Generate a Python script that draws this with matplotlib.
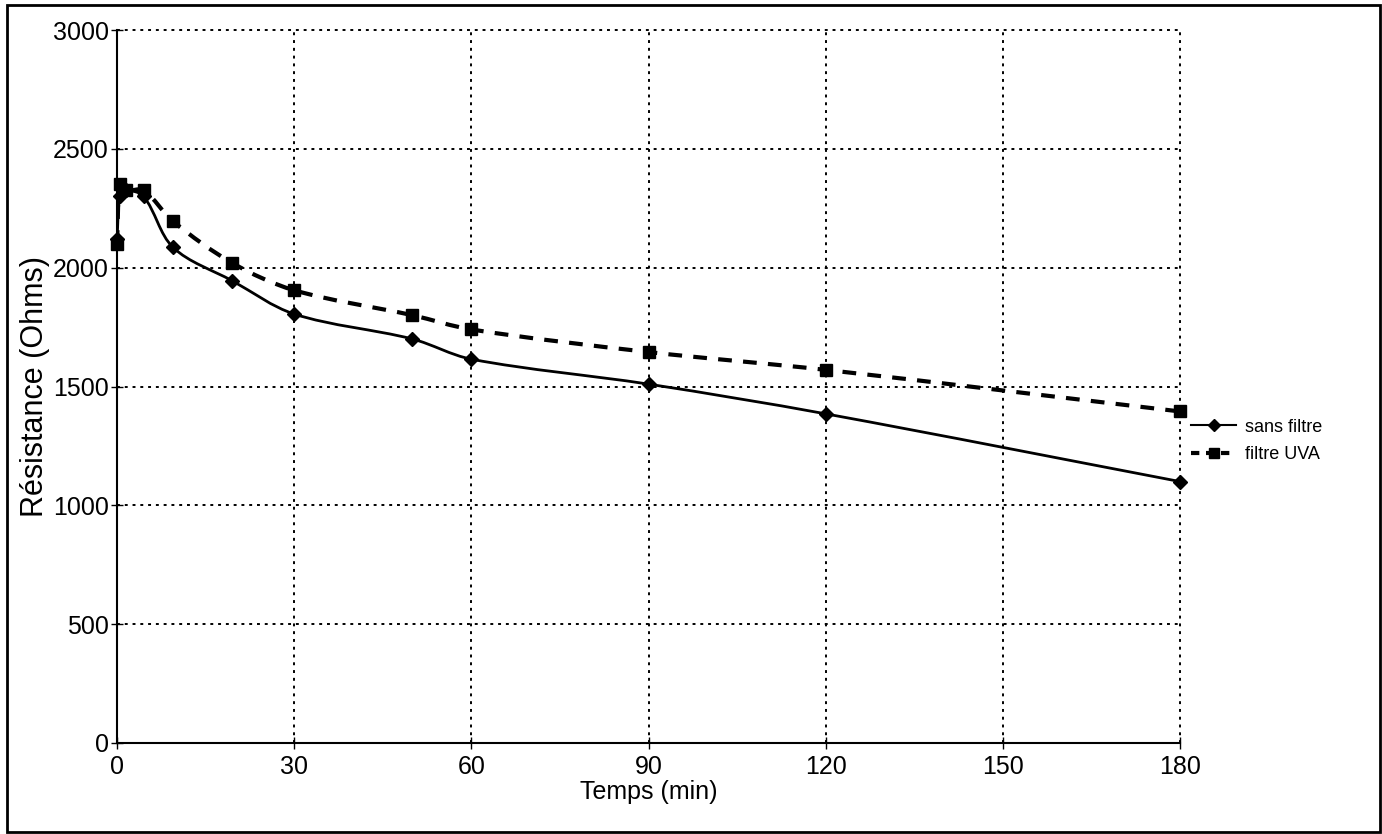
import numpy as np
import matplotlib
matplotlib.use("Agg")
import matplotlib.pyplot as plt
from matplotlib.path import Path
from matplotlib.patches import PathPatch, Rectangle
from matplotlib.lines import Line2D

plt.rcParams['font.family'] = ['Liberation Sans', 'DejaVu Sans']

# Measurement times (min) and resistance (Ohms)
temps = [0, 0.5, 1.5, 4.5, 9.5, 19.5, 30, 50, 60, 90, 120, 180]
sans_filtre = [2120, 2300, 2325, 2300, 2085, 1945, 1805, 1700, 1615, 1510, 1385, 1100]
filtre_uva = [2100, 2350, 2325, 2325, 2195, 2020, 1905, 1800, 1740, 1645, 1570, 1395]

series_labels = ['sans filtre', 'filtre UVA']
x_ticks = [0, 30, 60, 90, 120, 150, 180]
y_ticks = [0, 500, 1000, 1500, 2000, 2500, 3000]


def smooth_path(ax, x, y):
    """Cubic Bezier path through the points; handle lengths follow the
    on-screen chord lengths so uneven spacing does not create kinks."""
    data = np.column_stack([x, y]).astype(float)
    scr = ax.transData.transform(data)
    n = len(scr)
    d = np.hypot(*np.diff(scr, axis=0).T)
    verts = [scr[0]]
    codes = [Path.MOVETO]
    for i in range(n - 1):
        p1, p2 = scr[i], scr[i + 1]
        if i > 0:
            t1 = (p2 - scr[i - 1]) / (d[i - 1] + d[i])
        else:
            t1 = (p2 - p1) / d[i]
        if i + 2 < n:
            t2 = (scr[i + 2] - p1) / (d[i] + d[i + 1])
        else:
            t2 = (p2 - p1) / d[i]
        c1 = p1 + t1 * d[i] / 3.0
        c2 = p2 - t2 * d[i] / 3.0
        verts += [c1, c2, p2]
        codes += [Path.CURVE4] * 3
    verts = ax.transData.inverted().transform(np.array(verts))
    return Path(verts, codes)


fig = plt.figure(figsize=(13.82, 8.34), dpi=100)
ax = fig.add_axes([117 / 1382, 1 - 743 / 834, (1180 - 117) / 1382, (743 - 30) / 834])

ax.set_xlim(0, 180)
ax.set_ylim(0, 3000)
ax.set_xticks(x_ticks)
ax.set_yticks(y_ticks)
ax.tick_params(axis='both', labelsize=18, direction='inout', length=8, width=1,
               color='black', labelcolor='black')
ax.tick_params(axis='y', pad=2)
ax.tick_params(axis='x', pad=5)

ax.grid(True, linestyle=(0, (1.5, 2.5)), color='black', linewidth=1.4)
for gl in ax.get_xgridlines() + ax.get_ygridlines():
    gl.set_clip_on(False)
ax.set_axisbelow(True)

for side in ('top', 'right'):
    ax.spines[side].set_visible(False)
for side in ('left', 'bottom'):
    ax.spines[side].set_linewidth(1.5)
    ax.spines[side].set_zorder(5)

# Smoothed curves
ax.add_patch(PathPatch(smooth_path(ax, temps, sans_filtre), facecolor='none',
                       edgecolor='black', linewidth=2.0, zorder=3))
ax.add_patch(PathPatch(smooth_path(ax, temps, filtre_uva), facecolor='none',
                       edgecolor='black', linewidth=3.0, linestyle=(0, (3.3, 2.7)),
                       zorder=3))

# Markers
ax.plot(temps, sans_filtre, linestyle='none', marker='D', markersize=7,
        color='black', zorder=4, clip_on=False)
ax.plot(temps, filtre_uva, linestyle='none', marker='s', markersize=8.5,
        color='black', zorder=4, clip_on=False)

ax.set_xlabel('Temps (min)', fontsize=18, labelpad=0)
ax.set_ylabel('Résistance (Ohms)', fontsize=22, labelpad=2)

handles = [
    Line2D([], [], color='black', linewidth=1.5, marker='D', markersize=6),
    Line2D([], [], color='black', linewidth=3.0, linestyle=(0, (2, 1.6)),
           marker='s', markersize=7),
]
fig.legend(handles, series_labels, loc='center left',
           bbox_to_anchor=(1175 / 1382, 1 - 441 / 834), frameon=False,
           fontsize=13, handlelength=2.5, handletextpad=0.5, labelspacing=0.6)

# Outer frame around the chart
fig.add_artist(Rectangle((7 / 1382, 2 / 834), (1380 - 7) / 1382, (829 - 2) / 834,
                         transform=fig.transFigure, fill=False,
                         edgecolor='black', linewidth=2.0))

fig.savefig('out.png', dpi=100)
